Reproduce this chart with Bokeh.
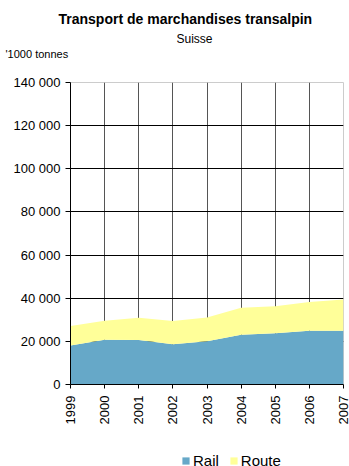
from bokeh.plotting import figure
from bokeh.layouts import column
from bokeh.models import ColumnDataSource, Legend, LegendItem, FixedTicker, Range1d, Title
from bokeh.embed import file_html
from bokeh.resources import INLINE
import math

# Transalpine freight through Switzerland, thousand tonnes
years = [1999, 2000, 2001, 2002, 2003, 2004, 2005, 2006, 2007]
rail = [18100, 20800, 20600, 18700, 20100, 23100, 23800, 24900, 24900]
route = [9000, 8700, 10400, 10700, 11000, 12500, 12500, 13400, 14500]
y_ticks = [0, 20000, 40000, 60000, 80000, 100000, 120000, 140000]
series = ["Rail", "Route"]
colors = ["#66a8c8", "#ffff99"]

FONT = "Liberation Sans"

source = ColumnDataSource(dict(year=years, Rail=rail, Route=route))

p = figure(output_backend="svg", toolbar_location=None,
           x_range=Range1d(1999, 2007), y_range=Range1d(0, 140000),
           frame_width=273, frame_height=302,
           min_border_left=70, min_border_right=6, min_border_top=82,
           min_border_bottom=0)
p.title.visible = False
p.background_fill_color = "white"
p.border_fill_color = "white"
p.outline_line_color = "#cccccc"
p.outline_line_width = 1

areas = p.varea_stack(series, x="year", source=source, color=colors)

# axes
p.xaxis.ticker = FixedTicker(ticks=years)
p.xaxis.major_label_overrides = {y: str(y) for y in years}
p.xaxis.major_label_orientation = math.pi / 2
p.xaxis.major_label_text_font = FONT
p.xaxis.major_label_text_font_size = "13px"
p.xaxis.major_label_text_color = "black"
p.xaxis.major_label_standoff = 7
p.xaxis.axis_line_color = "black"
p.xaxis.major_tick_line_color = "black"
p.xaxis.major_tick_out = 4
p.xaxis.major_tick_in = 0
p.xaxis.minor_tick_line_color = None

p.yaxis.ticker = FixedTicker(ticks=y_ticks)
p.yaxis.major_label_overrides = {t: f"{t:,}".replace(",", " ") for t in y_ticks}
p.yaxis.major_label_text_font = FONT
p.yaxis.major_label_text_font_size = "13px"
p.yaxis.major_label_text_color = "black"
p.yaxis.axis_line_color = "black"
p.yaxis.major_tick_line_color = "black"
p.yaxis.major_tick_out = 5
p.yaxis.major_tick_in = 0
p.yaxis.minor_tick_line_color = None
p.yaxis.major_label_standoff = 5

# grid
p.ygrid.grid_line_color = "black"
p.ygrid.grid_line_width = 1
p.xgrid.grid_line_color = "#555555"
p.xgrid.grid_line_width = 1

# headings, innermost first (a blank line keeps the unit label off the frame)
p.add_layout(Title(text=" ", standoff=10, text_font=FONT, text_font_size="10px"),
             "above")
p.add_layout(Title(text="'1000 tonnes", align="left", offset=-65, standoff=0,
                   text_font=FONT, text_font_size="11px", text_color="black",
                   text_font_style="normal"), "above")
p.add_layout(Title(text="Suisse", align="left", offset=106, standoff=0,
                   text_font=FONT, text_font_size="12px", text_color="black",
                   text_font_style="normal"), "above")
p.add_layout(Title(text="Transport de marchandises transalpin", align="left",
                   offset=-12, standoff=5, text_font=FONT, text_color="black",
                   text_font_size="14px", text_font_style="bold"), "above")

# legend strip under the chart
lg = figure(width=349, height=42, output_backend="svg", toolbar_location=None,
            x_range=Range1d(0, 1), y_range=Range1d(0, 1),
            x_axis_location=None, y_axis_location=None, min_border=0)
lg.grid.visible = False
lg.outline_line_color = None
lg.background_fill_color = "white"
lg.border_fill_color = "white"
keys = lg.varea_stack(series, x="year", source=source, color=colors)

legend = Legend(items=[LegendItem(label=s, renderers=[r]) for s, r in zip(series, keys)],
                orientation="horizontal", location=(111, 0),
                label_text_font=FONT, label_text_font_size="15px",
                label_text_color="black", label_height=12,
                glyph_width=9, glyph_height=9, spacing=10,
                label_standoff=3, padding=0, margin=0,
                border_line_color=None, background_fill_alpha=0)
lg.add_layout(legend)

layout = column(p, lg, spacing=0)
open("out.html", "w").write(file_html(layout, INLINE))
